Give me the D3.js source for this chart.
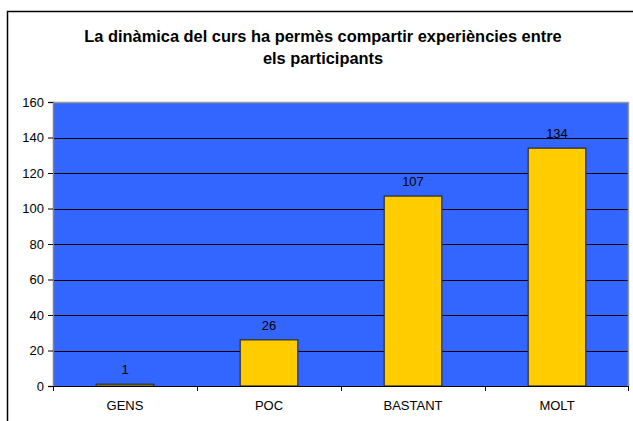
<!DOCTYPE html>
<html>
<head>
<meta charset="utf-8">
<script src="https://cdn.jsdelivr.net/npm/d3@7"></script>
<style>
  body { margin: 0; background: #fff; }
  text { font-family: "Liberation Sans", Arial, sans-serif; }
</style>
</head>
<body>
<div class="chart"></div>
<script>
// data
const categories = ["GENS", "POC", "BASTANT", "MOLT"];
const values = [1, 26, 107, 134];
const yTicks = [0, 20, 40, 60, 80, 100, 120, 140, 160];
const titleLines = ["La dinàmica del curs ha permès compartir experiències entre", "els participants"];

const W = 633, H = 421;
const margin = { top: 102, right: 4, bottom: 35, left: 53 };
const width = W - margin.left - margin.right;
const height = H - margin.top - margin.bottom;

const svgRoot = d3.select(".chart").append("svg")
  .attr("width", W)
  .attr("height", H);

// outer frame (cut by the picture on right/bottom)
svgRoot.append("path")
  .attr("d", "M7.5," + H + "V11.5H" + W)
  .attr("fill", "none")
  .attr("stroke", "#000")
  .attr("stroke-width", 1.5);

svgRoot.selectAll(".title")
  .data(titleLines)
  .enter()
  .append("text")
  .attr("class", "title")
  .attr("x", 323)
  .attr("y", (d, i) => 42 + i * 22)
  .attr("text-anchor", "middle")
  .style("font-size", "16.4px")
  .style("font-weight", "bold")
  .text(d => d);

const svg = svgRoot.append("g")
  .attr("transform", "translate(" + margin.left + "," + margin.top + ")");

const x = d3.scaleBand().domain(categories).range([0, width]).paddingInner(0.6).paddingOuter(0.3);
const xBand = d3.scaleBand().domain(categories).range([0, width]);
const y = d3.scaleLinear().domain([0, 160]).range([height, 0]);

// plot area
svg.append("rect")
  .attr("width", width)
  .attr("height", height)
  .attr("fill", "#3366ff");

// gridlines
svg.selectAll(".grid")
  .data(yTicks.filter(t => t > 0 && t < 160))
  .enter()
  .append("line")
  .attr("x1", 0)
  .attr("x2", width)
  .attr("y1", d => Math.round(y(d)) + 0.5)
  .attr("y2", d => Math.round(y(d)) + 0.5)
  .attr("stroke", "#000")
  .attr("stroke-width", 1);

// grey top/right frame of the plot
svg.append("path")
  .attr("d", "M0,0.5H" + (width - 0.5) + "V" + height)
  .attr("fill", "none")
  .attr("stroke", "#9a9a9a")
  .attr("stroke-width", 1.5);

svg.selectAll(".bar")
  .data(values)
  .enter()
  .append("rect")
  .attr("class", "bar")
  .attr("x", (d, i) => x(categories[i]))
  .attr("width", x.bandwidth())
  .attr("y", d => y(d))
  .attr("height", d => height - y(d))
  .attr("fill", "#ffcc00")
  .attr("stroke", "#2b2b2b")
  .attr("stroke-width", 1.2);

svg.selectAll(".bar-label")
  .data(values)
  .enter()
  .append("text")
  .attr("class", "bar-label")
  .attr("x", (d, i) => x(categories[i]) + x.bandwidth() / 2)
  .attr("y", d => y(d) - 10)
  .attr("text-anchor", "middle")
  .attr("fill", "#000")
  .style("font-size", "13px")
  .text(d => d);

// y axis
const yAxis = svg.append("g")
  .call(d3.axisLeft(y).tickValues(yTicks).tickSize(5).tickPadding(4));
yAxis.select(".domain").attr("stroke", "#808080").attr("stroke-width", 1.5);
yAxis.selectAll(".tick line").attr("stroke", "#000");
yAxis.selectAll(".tick text").style("font-size", "13px").attr("fill", "#000");

// x axis
const xAxisG = svg.append("g")
  .attr("transform", "translate(0," + height + ")");
xAxisG.append("line")
  .attr("x1", 0).attr("x2", width)
  .attr("y1", 0.5).attr("y2", 0.5)
  .attr("stroke", "#000");
xAxisG.selectAll(".xtick")
  .data(categories.concat(["end"]))
  .enter()
  .append("line")
  .attr("x1", (d, i) => i < categories.length ? Math.round(xBand(d)) + 0.5 : width - 0.5)
  .attr("x2", (d, i) => i < categories.length ? Math.round(xBand(d)) + 0.5 : width - 0.5)
  .attr("y1", 0)
  .attr("y2", 5)
  .attr("stroke", "#000");
xAxisG.selectAll(".xlabel")
  .data(categories)
  .enter()
  .append("text")
  .attr("x", d => xBand(d) + xBand.bandwidth() / 2)
  .attr("y", 24)
  .attr("text-anchor", "middle")
  .style("font-size", "13px")
  .attr("fill", "#000")
  .text(d => d);
</script>
</body>
</html>
